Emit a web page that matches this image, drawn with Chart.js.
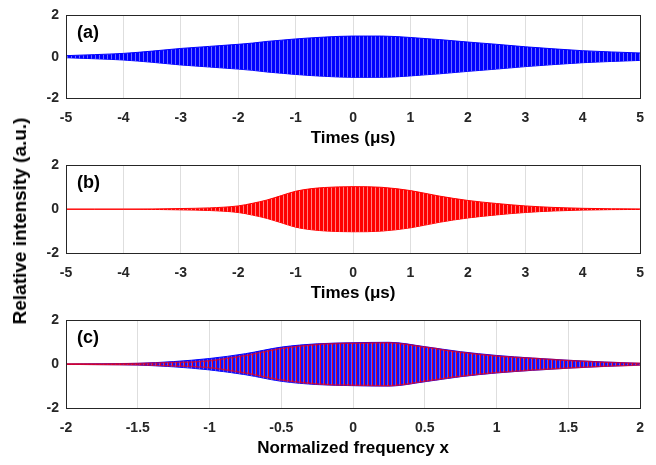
<!DOCTYPE html>
<html>
<head>
<meta charset="utf-8">
<script src="https://cdn.jsdelivr.net/npm/chart.js@4/dist/chart.umd.min.js"></script>
<style>
  html, body { margin: 0; padding: 0; background: #fff; }
  body { width: 656px; height: 465px; position: relative; overflow: hidden; }
  .panel { position: absolute; left: 0; width: 656px; }
  #ytitle {
    position: absolute; left: 20px; top: 221px;
    transform: translate(-50%, -50%) rotate(-90deg);
    white-space: nowrap;
    font: bold 19px "Liberation Sans", Arial, sans-serif;
    color: #000;
  }
</style>
</head>
<body>
<div class="panel" style="top:0;height:150px"><canvas id="chartA"></canvas></div>
<div class="panel" style="top:150px;height:155px"><canvas id="chartB"></canvas></div>
<div class="panel" style="top:305px;height:155px"><canvas id="chartC"></canvas></div>
<div id="ytitle">Relative intensity (a.u.)</div>
<script>
// envelope of the oscillating signals
const times = [-5, -4.5, -4, -3.5, -3, -2.5, -2, -1.75, -1.5, -1.25, -1, -0.75, -0.5, 0, 0.5, 1, 1.5, 2, 2.5, 3, 3.5, 4, 4.5, 5];
const ampA  = [0.05, 0.1, 0.16, 0.27, 0.4, 0.5, 0.6, 0.66, 0.74, 0.8, 0.86, 0.91, 0.95, 1.0, 1.0, 0.93, 0.83, 0.71, 0.6, 0.48, 0.38, 0.29, 0.23, 0.18];
const ampB  = [0, 0, 0, 0.01, 0.03, 0.06, 0.15, 0.27, 0.42, 0.62, 0.82, 0.93, 0.99, 1.03, 1.0, 0.85, 0.6, 0.4, 0.26, 0.15, 0.08, 0.04, 0.02, 0.01];

const freq     = [-2, -1.75, -1.5, -1.25, -1, -0.75, -0.5, -0.25, 0, 0.25, 0.5, 0.75, 1, 1.25, 1.5, 1.75, 2];
const ampCBlue = [0.01, 0.02, 0.04, 0.12, 0.26, 0.48, 0.78, 0.93, 0.98, 1.0, 0.8, 0.57, 0.4, 0.28, 0.18, 0.1, 0.04];
const ampCRed  = [0.005, 0.01, 0.03, 0.08, 0.16, 0.4, 0.72, 0.9, 0.96, 0.98, 0.78, 0.55, 0.38, 0.27, 0.17, 0.09, 0.04];

const timeTicks = [-5, -4, -3, -2, -1, 0, 1, 2, 3, 4, 5];
const freqTicks = [-2, -1.5, -1, -0.5, 0, 0.5, 1, 1.5, 2];
const yTicks = [-2, 0, 2];

const FONT = '"Liberation Sans", Arial, sans-serif';
const DARK = '#262626';

// vertical stripe fill to suggest the dense oscillation
function stripes(color, gap, solid) {
  const c = document.createElement('canvas');
  c.width = 4; c.height = 4;
  const g = c.getContext('2d');
  g.fillStyle = color; g.fillRect(0, 0, solid, 4);
  if (gap) { g.fillStyle = gap; g.fillRect(solid, 0, 4 - solid, 4); }
  return g.createPattern(c, 'repeat');
}

function band(xs, amp, color, fillStyle, order, width) {
  const upper = xs.map((x, i) => ({ x: x, y: amp[i] }));
  const lower = xs.map((x, i) => ({ x: x, y: -amp[i] }));
  const common = { borderColor: color, borderWidth: width, pointRadius: 0, cubicInterpolationMode: 'monotone', order: order };
  return [
    Object.assign({ data: upper, fill: '+1', backgroundColor: fillStyle }, common),
    Object.assign({ data: lower, fill: false }, common),
  ];
}

const frame = {
  id: 'frame',
  afterDraw(chart, args, opts) {
    const a = chart.chartArea, ctx = chart.ctx;
    ctx.save();
    ctx.strokeStyle = DARK;
    ctx.lineWidth = 1;
    ctx.strokeRect(Math.round(a.left) + 0.5, Math.round(a.top) + 0.5, Math.round(a.right - a.left), Math.round(a.bottom - a.top));
    ctx.fillStyle = '#000';
    ctx.font = 'bold 18px ' + FONT;
    ctx.textBaseline = 'middle';
    ctx.fillText(opts.label, a.left + 11, a.top + 18);
    ctx.restore();
  }
};

function makeChart(id, datasets, min, max, ticks, title, label, padTop) {
  return new Chart(document.getElementById(id), {
    type: 'line',
    data: { datasets: datasets },
    plugins: [frame],
    options: {
      responsive: true,
      maintainAspectRatio: false,
      animation: false,
      layout: { padding: { top: padTop, right: 7, left: 0, bottom: 0 } },
      plugins: { legend: { display: false }, tooltip: { enabled: false }, frame: { label: label } },
      scales: {
        x: {
          type: 'linear', min: min, max: max,
          afterBuildTicks: s => { s.ticks = ticks.map(v => ({ value: v })); },
          afterFit: s => { s.height = 52; },
          grid: { color: '#dedede', drawTicks: false },
          border: { display: false },
          ticks: { color: DARK, padding: 12, callback: v => String(v), font: { family: FONT, weight: 'bold', size: 14 }, maxRotation: 0, autoSkip: false },
          title: { display: true, text: title, color: '#000', padding: { top: 0, bottom: 1 }, font: { family: FONT, weight: 'bold', size: 17 } }
        },
        y: {
          min: -2, max: 2,
          afterBuildTicks: s => { s.ticks = yTicks.map(v => ({ value: v })); },
          afterFit: s => { s.width = 66; },
          grid: { display: false, drawTicks: false },
          border: { display: false },
          ticks: { color: DARK, padding: 7, font: { family: FONT, weight: 'bold', size: 14 } }
        }
      }
    }
  });
}

makeChart('chartA', band(times, ampA, '#0000ff', stripes('#0000ff', '#6b6bff', 3), 0, 1),
  -5, 5, timeTicks, 'Times (μs)', '(a)', 7);
makeChart('chartB', band(times, ampB, '#ff0000', stripes('#ff0000', '#ff8080', 3), 0, 1),
  -5, 5, timeTicks, 'Times (μs)', '(b)', 15);
makeChart('chartC',
  band(freq, ampCRed, 'rgba(255,0,0,0.6)', stripes('rgba(255,0,0,0.9)', 'rgba(0,0,0,0)', 1), 0, 1.5)
    .concat(band(freq, ampCBlue, '#0000ff', stripes('#1010ff', '#5a5aff', 3), 1, 1)),
  -2, 2, freqTicks, 'Normalized frequency x', '(c)', 15);
</script>
</body>
</html>
